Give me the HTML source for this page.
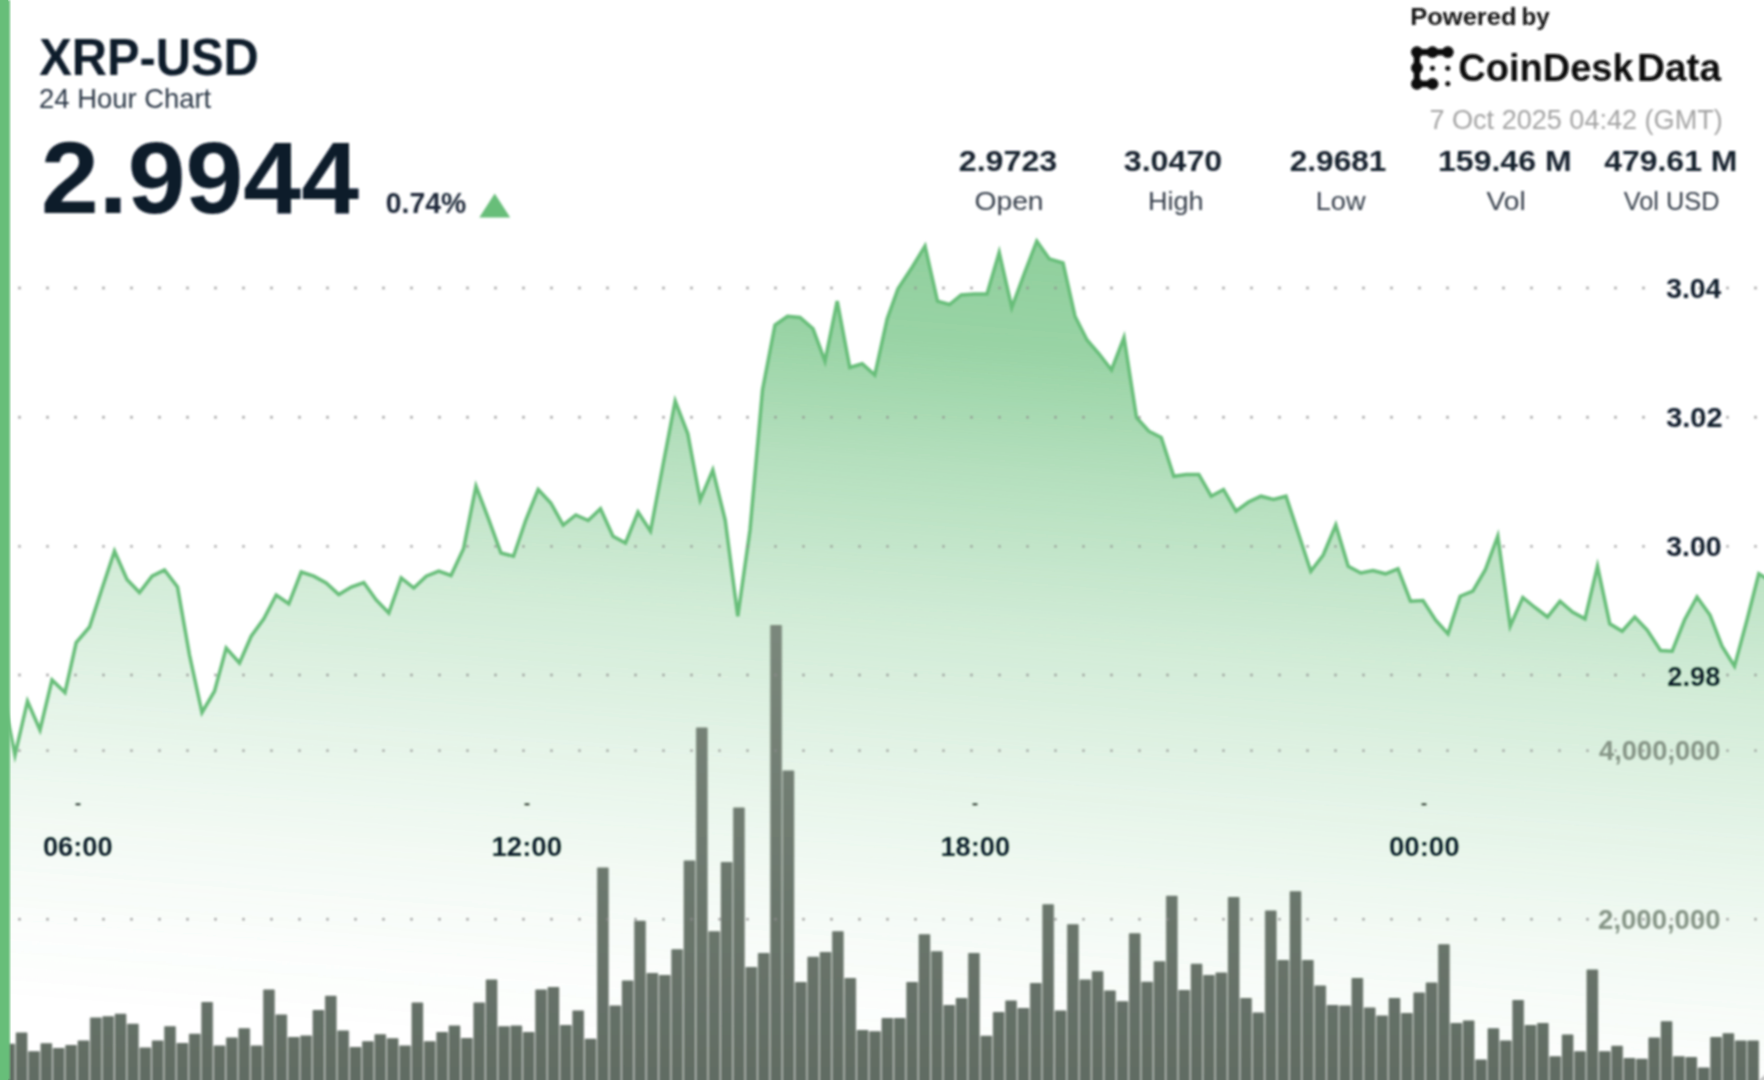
<!DOCTYPE html>
<html lang="en"><head><meta charset="utf-8"><title>XRP-USD 24 Hour Chart</title>
<style>
html,body{margin:0;padding:0;background:#fff;}
body{width:1764px;height:1080px;overflow:hidden;position:relative;font-family:"Liberation Sans", Arial, sans-serif;}
svg{position:absolute;left:0;top:0;display:block;}
text{font-family:"Liberation Sans", Arial, sans-serif;}
</style></head><body>
<svg width="1764" height="1080" viewBox="0 0 1764 1080">
<defs>
<linearGradient id="ga" gradientUnits="userSpaceOnUse" x1="1036" y1="241" x2="969.1" y2="1077.5">
<stop offset="0" stop-color="#67be79" stop-opacity="0.73"/>
<stop offset="0.129" stop-color="#67be79" stop-opacity="0.67"/>
<stop offset="0.275" stop-color="#67be79" stop-opacity="0.49"/>
<stop offset="0.466" stop-color="#67be79" stop-opacity="0.30"/>
<stop offset="0.644" stop-color="#67be79" stop-opacity="0.17"/>
<stop offset="0.786" stop-color="#67be79" stop-opacity="0.08"/>
<stop offset="0.917" stop-color="#67be79" stop-opacity="0.02"/>
<stop offset="1" stop-color="#67be79" stop-opacity="0"/>
</linearGradient>
<linearGradient id="gb" gradientUnits="userSpaceOnUse" x1="0" y1="620" x2="0" y2="1080">
<stop offset="0" stop-color="#7b887c"/>
<stop offset="1" stop-color="#616c63"/>
</linearGradient>
<filter id="soft" x="-2%" y="-2%" width="104%" height="104%"><feGaussianBlur stdDeviation="0.9"/></filter>
</defs>
<g filter="url(#soft)">
<path d="M2.5 692.5 L15.0 755.0 L27.5 701.2 L40.0 730.0 L52.0 680.0 L65.0 692.5 L76.2 642.5 L89.5 627.0 L102.0 588.8 L114.5 551.2 L127.0 579.5 L139.5 592.5 L152.0 576.2 L164.5 570.0 L177.5 587.0 L189.5 655.0 L202.0 712.5 L214.5 691.2 L226.2 648.0 L239.5 663.0 L251.2 636.2 L263.8 618.8 L276.2 595.0 L288.8 603.8 L301.2 572.0 L313.8 576.2 L326.2 583.0 L338.8 594.5 L351.2 587.0 L363.8 582.5 L376.2 600.0 L388.8 613.0 L401.2 578.0 L413.8 588.0 L426.2 576.2 L438.8 571.2 L451.0 575.5 L463.5 548.8 L476.0 486.2 L488.5 518.8 L501.0 553.0 L513.5 556.2 L525.8 520.0 L538.2 489.5 L550.8 503.0 L563.2 525.0 L575.8 515.0 L588.2 520.5 L600.5 508.8 L613.0 536.2 L625.5 543.0 L638.0 512.0 L650.5 531.2 L663.0 465.0 L675.2 401.2 L687.8 433.8 L700.2 500.0 L712.8 470.0 L725.2 520.0 L737.8 616.2 L750.0 530.0 L762.5 390.0 L775.0 325.0 L787.5 316.2 L800.0 317.5 L813.0 328.8 L825.0 361.2 L837.2 301.2 L849.8 367.5 L862.2 363.8 L874.8 375.0 L887.2 318.8 L898.0 288.8 L912.0 267.5 L925.0 246.2 L937.5 301.2 L949.5 304.5 L961.2 295.0 L974.5 294.0 L987.0 294.0 L999.2 252.5 L1011.8 307.5 L1024.2 273.8 L1036.8 241.2 L1049.2 258.8 L1063.0 263.0 L1075.0 316.2 L1087.0 340.0 L1099.0 353.8 L1111.5 370.0 L1124.0 337.5 L1136.5 417.5 L1148.8 431.2 L1161.2 437.5 L1173.8 476.2 L1186.2 474.5 L1198.8 474.5 L1211.2 496.2 L1223.5 489.5 L1236.0 511.2 L1248.5 502.0 L1261.0 496.2 L1273.5 499.5 L1286.0 496.2 L1298.5 533.8 L1310.8 571.2 L1323.2 555.0 L1335.8 525.0 L1348.2 566.2 L1360.8 573.0 L1373.0 570.5 L1385.5 573.8 L1398.0 568.8 L1410.5 601.2 L1423.0 600.5 L1435.5 620.0 L1448.0 633.8 L1460.2 596.2 L1472.8 591.2 L1485.2 570.0 L1497.8 536.2 L1510.2 626.2 L1522.8 597.5 L1535.0 607.5 L1547.5 617.0 L1560.0 601.2 L1572.5 612.0 L1585.0 618.8 L1597.5 566.2 L1609.8 623.8 L1622.2 631.2 L1634.8 617.0 L1647.2 630.0 L1660.5 650.5 L1672.2 651.2 L1684.5 620.0 L1697.0 597.0 L1710.0 615.0 L1722.0 646.2 L1734.5 666.2 L1747.0 620.0 L1758.8 573.8 L1764.0 577.0 L1790 591.0 L1790 1110 L-20 1110 L-20 692.5 Z" fill="url(#ga)"/>
<path d="M2.5 692.5 L15.0 755.0 L27.5 701.2 L40.0 730.0 L52.0 680.0 L65.0 692.5 L76.2 642.5 L89.5 627.0 L102.0 588.8 L114.5 551.2 L127.0 579.5 L139.5 592.5 L152.0 576.2 L164.5 570.0 L177.5 587.0 L189.5 655.0 L202.0 712.5 L214.5 691.2 L226.2 648.0 L239.5 663.0 L251.2 636.2 L263.8 618.8 L276.2 595.0 L288.8 603.8 L301.2 572.0 L313.8 576.2 L326.2 583.0 L338.8 594.5 L351.2 587.0 L363.8 582.5 L376.2 600.0 L388.8 613.0 L401.2 578.0 L413.8 588.0 L426.2 576.2 L438.8 571.2 L451.0 575.5 L463.5 548.8 L476.0 486.2 L488.5 518.8 L501.0 553.0 L513.5 556.2 L525.8 520.0 L538.2 489.5 L550.8 503.0 L563.2 525.0 L575.8 515.0 L588.2 520.5 L600.5 508.8 L613.0 536.2 L625.5 543.0 L638.0 512.0 L650.5 531.2 L663.0 465.0 L675.2 401.2 L687.8 433.8 L700.2 500.0 L712.8 470.0 L725.2 520.0 L737.8 616.2 L750.0 530.0 L762.5 390.0 L775.0 325.0 L787.5 316.2 L800.0 317.5 L813.0 328.8 L825.0 361.2 L837.2 301.2 L849.8 367.5 L862.2 363.8 L874.8 375.0 L887.2 318.8 L898.0 288.8 L912.0 267.5 L925.0 246.2 L937.5 301.2 L949.5 304.5 L961.2 295.0 L974.5 294.0 L987.0 294.0 L999.2 252.5 L1011.8 307.5 L1024.2 273.8 L1036.8 241.2 L1049.2 258.8 L1063.0 263.0 L1075.0 316.2 L1087.0 340.0 L1099.0 353.8 L1111.5 370.0 L1124.0 337.5 L1136.5 417.5 L1148.8 431.2 L1161.2 437.5 L1173.8 476.2 L1186.2 474.5 L1198.8 474.5 L1211.2 496.2 L1223.5 489.5 L1236.0 511.2 L1248.5 502.0 L1261.0 496.2 L1273.5 499.5 L1286.0 496.2 L1298.5 533.8 L1310.8 571.2 L1323.2 555.0 L1335.8 525.0 L1348.2 566.2 L1360.8 573.0 L1373.0 570.5 L1385.5 573.8 L1398.0 568.8 L1410.5 601.2 L1423.0 600.5 L1435.5 620.0 L1448.0 633.8 L1460.2 596.2 L1472.8 591.2 L1485.2 570.0 L1497.8 536.2 L1510.2 626.2 L1522.8 597.5 L1535.0 607.5 L1547.5 617.0 L1560.0 601.2 L1572.5 612.0 L1585.0 618.8 L1597.5 566.2 L1609.8 623.8 L1622.2 631.2 L1634.8 617.0 L1647.2 630.0 L1660.5 650.5 L1672.2 651.2 L1684.5 620.0 L1697.0 597.0 L1710.0 615.0 L1722.0 646.2 L1734.5 666.2 L1747.0 620.0 L1758.8 573.8 L1764.0 577.0 L1790 591.0" fill="none" stroke="#67be79" stroke-width="3.5" stroke-linejoin="miter" stroke-miterlimit="5" stroke-linecap="butt"/>
<path d="M3.05 1110V1044.2h12.368V1110z M15.42 1110V1033.0h12.368V1110z M27.78 1110V1051.8h12.368V1110z M40.15 1110V1043.8h12.368V1110z M52.52 1110V1048.5h12.368V1110z M64.89 1110V1045.5h12.368V1110z M77.26 1110V1041.0h12.368V1110z M89.62 1110V1018.0h12.368V1110z M101.99 1110V1016.8h12.368V1110z M114.36 1110V1014.2h12.368V1110z M126.73 1110V1024.2h12.368V1110z M139.10 1110V1048.0h12.368V1110z M151.46 1110V1041.0h12.368V1110z M163.83 1110V1026.8h12.368V1110z M176.20 1110V1043.5h12.368V1110z M188.57 1110V1034.2h12.368V1110z M200.94 1110V1002.5h12.368V1110z M213.30 1110V1046.0h12.368V1110z M225.67 1110V1038.0h12.368V1110z M238.04 1110V1028.8h12.368V1110z M250.41 1110V1046.0h12.368V1110z M262.78 1110V990.0h12.368V1110z M275.14 1110V1015.0h12.368V1110z M287.51 1110V1037.5h12.368V1110z M299.88 1110V1036.0h12.368V1110z M312.25 1110V1010.5h12.368V1110z M324.62 1110V996.2h12.368V1110z M336.98 1110V1031.0h12.368V1110z M349.35 1110V1047.5h12.368V1110z M361.72 1110V1041.8h12.368V1110z M374.09 1110V1034.8h12.368V1110z M386.46 1110V1038.8h12.368V1110z M398.82 1110V1046.0h12.368V1110z M411.19 1110V1003.0h12.368V1110z M423.56 1110V1041.8h12.368V1110z M435.93 1110V1032.5h12.368V1110z M448.30 1110V1026.0h12.368V1110z M460.66 1110V1038.5h12.368V1110z M473.03 1110V1003.0h12.368V1110z M485.40 1110V980.0h12.368V1110z M497.77 1110V1026.8h12.368V1110z M510.14 1110V1026.0h12.368V1110z M522.50 1110V1032.5h12.368V1110z M534.87 1110V990.0h12.368V1110z M547.24 1110V987.5h12.368V1110z M559.61 1110V1025.5h12.368V1110z M571.98 1110V1011.0h12.368V1110z M584.34 1110V1039.2h12.368V1110z M596.71 1110V868.0h12.368V1110z M609.08 1110V1006.0h12.368V1110z M621.45 1110V981.0h12.368V1110z M633.82 1110V921.2h12.368V1110z M646.18 1110V973.5h12.368V1110z M658.55 1110V975.5h12.368V1110z M670.92 1110V949.8h12.368V1110z M683.29 1110V861.0h12.368V1110z M695.66 1110V728.0h12.368V1110z M708.02 1110V931.8h12.368V1110z M720.39 1110V862.5h12.368V1110z M732.76 1110V808.0h12.368V1110z M745.13 1110V967.5h12.368V1110z M757.50 1110V953.5h12.368V1110z M769.86 1110V625.5h12.368V1110z M782.23 1110V771.0h12.368V1110z M794.60 1110V982.5h12.368V1110z M806.97 1110V957.2h12.368V1110z M819.34 1110V952.5h12.368V1110z M831.70 1110V931.8h12.368V1110z M844.07 1110V978.5h12.368V1110z M856.44 1110V1030.5h12.368V1110z M868.81 1110V1031.8h12.368V1110z M881.18 1110V1018.5h12.368V1110z M893.54 1110V1018.5h12.368V1110z M905.91 1110V982.5h12.368V1110z M918.28 1110V934.8h12.368V1110z M930.65 1110V951.8h12.368V1110z M943.02 1110V1005.5h12.368V1110z M955.38 1110V998.5h12.368V1110z M967.75 1110V953.5h12.368V1110z M980.12 1110V1036.2h12.368V1110z M992.49 1110V1012.5h12.368V1110z M1004.86 1110V1001.0h12.368V1110z M1017.22 1110V1008.5h12.368V1110z M1029.59 1110V983.5h12.368V1110z M1041.96 1110V904.8h12.368V1110z M1054.33 1110V1011.0h12.368V1110z M1066.70 1110V924.8h12.368V1110z M1079.06 1110V980.0h12.368V1110z M1091.43 1110V971.8h12.368V1110z M1103.80 1110V991.0h12.368V1110z M1116.17 1110V1001.8h12.368V1110z M1128.54 1110V933.8h12.368V1110z M1140.90 1110V982.2h12.368V1110z M1153.27 1110V961.8h12.368V1110z M1165.64 1110V896.2h12.368V1110z M1178.01 1110V990.5h12.368V1110z M1190.38 1110V964.2h12.368V1110z M1202.74 1110V975.5h12.368V1110z M1215.11 1110V973.0h12.368V1110z M1227.48 1110V897.5h12.368V1110z M1239.85 1110V998.5h12.368V1110z M1252.22 1110V1013.0h12.368V1110z M1264.58 1110V911.0h12.368V1110z M1276.95 1110V960.5h12.368V1110z M1289.32 1110V891.8h12.368V1110z M1301.69 1110V960.5h12.368V1110z M1314.06 1110V986.0h12.368V1110z M1326.42 1110V1005.5h12.368V1110z M1338.79 1110V1006.0h12.368V1110z M1351.16 1110V978.5h12.368V1110z M1363.53 1110V1008.0h12.368V1110z M1375.90 1110V1016.0h12.368V1110z M1388.26 1110V998.5h12.368V1110z M1400.63 1110V1013.5h12.368V1110z M1413.00 1110V993.0h12.368V1110z M1425.37 1110V983.0h12.368V1110z M1437.74 1110V944.8h12.368V1110z M1450.10 1110V1023.5h12.368V1110z M1462.47 1110V1021.0h12.368V1110z M1474.84 1110V1060.0h12.368V1110z M1487.21 1110V1028.8h12.368V1110z M1499.58 1110V1041.0h12.368V1110z M1511.94 1110V1000.5h12.368V1110z M1524.31 1110V1025.5h12.368V1110z M1536.68 1110V1023.5h12.368V1110z M1549.05 1110V1056.8h12.368V1110z M1561.42 1110V1035.0h12.368V1110z M1573.78 1110V1051.8h12.368V1110z M1586.15 1110V970.0h12.368V1110z M1598.52 1110V1051.8h12.368V1110z M1610.89 1110V1046.2h12.368V1110z M1623.26 1110V1058.5h12.368V1110z M1635.62 1110V1059.2h12.368V1110z M1647.99 1110V1038.0h12.368V1110z M1660.36 1110V1021.8h12.368V1110z M1672.73 1110V1056.8h12.368V1110z M1685.10 1110V1057.5h12.368V1110z M1697.46 1110V1068.0h12.368V1110z M1709.83 1110V1037.5h12.368V1110z M1722.20 1110V1033.8h12.368V1110z M1734.57 1110V1041.0h12.368V1110z M1746.94 1110V1041.0h12.368V1110z" fill="#6b776d" fill-opacity="0.36"/>
<path d="M3.68 1110V1043.8h11.1V1110z M16.05 1110V1032.5h11.1V1110z M28.42 1110V1051.2h11.1V1110z M40.79 1110V1043.2h11.1V1110z M53.15 1110V1048.0h11.1V1110z M65.52 1110V1045.0h11.1V1110z M77.89 1110V1040.5h11.1V1110z M90.26 1110V1017.5h11.1V1110z M102.63 1110V1016.2h11.1V1110z M114.99 1110V1013.8h11.1V1110z M127.36 1110V1023.8h11.1V1110z M139.73 1110V1047.5h11.1V1110z M152.10 1110V1040.5h11.1V1110z M164.47 1110V1026.2h11.1V1110z M176.83 1110V1043.0h11.1V1110z M189.20 1110V1033.8h11.1V1110z M201.57 1110V1002.0h11.1V1110z M213.94 1110V1045.5h11.1V1110z M226.31 1110V1037.5h11.1V1110z M238.67 1110V1028.2h11.1V1110z M251.04 1110V1045.5h11.1V1110z M263.41 1110V989.5h11.1V1110z M275.78 1110V1014.5h11.1V1110z M288.15 1110V1037.0h11.1V1110z M300.51 1110V1035.5h11.1V1110z M312.88 1110V1010.0h11.1V1110z M325.25 1110V995.8h11.1V1110z M337.62 1110V1030.5h11.1V1110z M349.99 1110V1047.0h11.1V1110z M362.35 1110V1041.2h11.1V1110z M374.72 1110V1034.2h11.1V1110z M387.09 1110V1038.2h11.1V1110z M399.46 1110V1045.5h11.1V1110z M411.83 1110V1002.5h11.1V1110z M424.19 1110V1041.2h11.1V1110z M436.56 1110V1032.0h11.1V1110z M448.93 1110V1025.5h11.1V1110z M461.30 1110V1038.0h11.1V1110z M473.67 1110V1002.5h11.1V1110z M486.03 1110V979.5h11.1V1110z M498.40 1110V1026.2h11.1V1110z M510.77 1110V1025.5h11.1V1110z M523.14 1110V1032.0h11.1V1110z M535.51 1110V989.5h11.1V1110z M547.87 1110V987.0h11.1V1110z M560.24 1110V1025.0h11.1V1110z M572.61 1110V1010.5h11.1V1110z M584.98 1110V1038.8h11.1V1110z M597.35 1110V867.5h11.1V1110z M609.71 1110V1005.5h11.1V1110z M622.08 1110V980.5h11.1V1110z M634.45 1110V920.8h11.1V1110z M646.82 1110V973.0h11.1V1110z M659.19 1110V975.0h11.1V1110z M671.55 1110V949.2h11.1V1110z M683.92 1110V860.5h11.1V1110z M696.29 1110V727.5h11.1V1110z M708.66 1110V931.2h11.1V1110z M721.03 1110V862.0h11.1V1110z M733.39 1110V807.5h11.1V1110z M745.76 1110V967.0h11.1V1110z M758.13 1110V953.0h11.1V1110z M770.50 1110V625.0h11.1V1110z M782.87 1110V770.5h11.1V1110z M795.23 1110V982.0h11.1V1110z M807.60 1110V956.8h11.1V1110z M819.97 1110V952.0h11.1V1110z M832.34 1110V931.2h11.1V1110z M844.71 1110V978.0h11.1V1110z M857.07 1110V1030.0h11.1V1110z M869.44 1110V1031.2h11.1V1110z M881.81 1110V1018.0h11.1V1110z M894.18 1110V1018.0h11.1V1110z M906.55 1110V982.0h11.1V1110z M918.91 1110V934.2h11.1V1110z M931.28 1110V951.2h11.1V1110z M943.65 1110V1005.0h11.1V1110z M956.02 1110V998.0h11.1V1110z M968.39 1110V953.0h11.1V1110z M980.75 1110V1035.8h11.1V1110z M993.12 1110V1012.0h11.1V1110z M1005.49 1110V1000.5h11.1V1110z M1017.86 1110V1008.0h11.1V1110z M1030.23 1110V983.0h11.1V1110z M1042.59 1110V904.2h11.1V1110z M1054.96 1110V1010.5h11.1V1110z M1067.33 1110V924.2h11.1V1110z M1079.70 1110V979.5h11.1V1110z M1092.07 1110V971.2h11.1V1110z M1104.43 1110V990.5h11.1V1110z M1116.80 1110V1001.2h11.1V1110z M1129.17 1110V933.2h11.1V1110z M1141.54 1110V981.8h11.1V1110z M1153.91 1110V961.2h11.1V1110z M1166.27 1110V895.8h11.1V1110z M1178.64 1110V990.0h11.1V1110z M1191.01 1110V963.8h11.1V1110z M1203.38 1110V975.0h11.1V1110z M1215.75 1110V972.5h11.1V1110z M1228.11 1110V897.0h11.1V1110z M1240.48 1110V998.0h11.1V1110z M1252.85 1110V1012.5h11.1V1110z M1265.22 1110V910.5h11.1V1110z M1277.59 1110V960.0h11.1V1110z M1289.95 1110V891.2h11.1V1110z M1302.32 1110V960.0h11.1V1110z M1314.69 1110V985.5h11.1V1110z M1327.06 1110V1005.0h11.1V1110z M1339.43 1110V1005.5h11.1V1110z M1351.79 1110V978.0h11.1V1110z M1364.16 1110V1007.5h11.1V1110z M1376.53 1110V1015.5h11.1V1110z M1388.90 1110V998.0h11.1V1110z M1401.27 1110V1013.0h11.1V1110z M1413.63 1110V992.5h11.1V1110z M1426.00 1110V982.5h11.1V1110z M1438.37 1110V944.2h11.1V1110z M1450.74 1110V1023.0h11.1V1110z M1463.11 1110V1020.5h11.1V1110z M1475.47 1110V1059.5h11.1V1110z M1487.84 1110V1028.2h11.1V1110z M1500.21 1110V1040.5h11.1V1110z M1512.58 1110V1000.0h11.1V1110z M1524.95 1110V1025.0h11.1V1110z M1537.31 1110V1023.0h11.1V1110z M1549.68 1110V1056.2h11.1V1110z M1562.05 1110V1034.5h11.1V1110z M1574.42 1110V1051.2h11.1V1110z M1586.79 1110V969.5h11.1V1110z M1599.15 1110V1051.2h11.1V1110z M1611.52 1110V1045.8h11.1V1110z M1623.89 1110V1058.0h11.1V1110z M1636.26 1110V1058.8h11.1V1110z M1648.63 1110V1037.5h11.1V1110z M1660.99 1110V1021.2h11.1V1110z M1673.36 1110V1056.2h11.1V1110z M1685.73 1110V1057.0h11.1V1110z M1698.10 1110V1067.5h11.1V1110z M1710.47 1110V1037.0h11.1V1110z M1722.83 1110V1033.2h11.1V1110z M1735.20 1110V1040.5h11.1V1110z M1747.57 1110V1040.5h11.1V1110z" fill="url(#gb)"/>
<path d="M18.5 288H1794" stroke="#8c8c8c" stroke-width="2.4" stroke-dasharray="2 26" fill="none"/>
<path d="M18.5 417.3H1794" stroke="#8c8c8c" stroke-width="2.4" stroke-dasharray="2 26" fill="none"/>
<path d="M18.5 546.4H1794" stroke="#8c8c8c" stroke-width="2.4" stroke-dasharray="2 26" fill="none"/>
<path d="M18.5 675H1794" stroke="#8c8c8c" stroke-width="2.4" stroke-dasharray="2 26" fill="none"/>
<path d="M18.5 750.6H1794" stroke="#8c8c8c" stroke-width="2.4" stroke-dasharray="2 26" fill="none"/>
<path d="M18.5 919.3H1794" stroke="#8c8c8c" stroke-width="2.4" stroke-dasharray="2 26" fill="none"/>
<rect x="75.5" y="803.3" width="5" height="2" fill="#222"/>
<rect x="524.5" y="803.3" width="5" height="2" fill="#222"/>
<rect x="972.5" y="803.3" width="5" height="2" fill="#222"/>
<rect x="1421.5" y="803.3" width="5" height="2" fill="#222"/>
<text x="39.15" y="75.20" font-size="51.2" font-weight="bold" textLength="219.70" lengthAdjust="spacingAndGlyphs" fill="#0b1a2b">XRP-USD</text>
<text x="39.07" y="108.00" font-size="28.3" font-weight="normal" textLength="172.06" lengthAdjust="spacingAndGlyphs" fill="#2b3746">24 Hour Chart</text>
<text x="40.90" y="212.50" font-size="102.5" font-weight="bold" textLength="318.20" lengthAdjust="spacingAndGlyphs" fill="#0b1a2b">2.9944</text>
<text x="385.84" y="212.50" font-size="28.9" font-weight="bold" textLength="80.31" lengthAdjust="spacingAndGlyphs" fill="#1c2838">0.74%</text>
<text x="1410.21" y="24.90" font-size="24.7" font-weight="bold" textLength="106.38" lengthAdjust="spacingAndGlyphs" fill="#141414">Powered</text>
<text x="1521.41" y="24.90" font-size="24.7" font-weight="bold" textLength="28.18" lengthAdjust="spacingAndGlyphs" fill="#141414">by</text>
<text x="1458.34" y="81.20" font-size="38.2" font-weight="bold" textLength="175.32" lengthAdjust="spacingAndGlyphs" fill="#0a0a0a">CoinDesk</text>
<text x="1636.94" y="81.20" font-size="38.2" font-weight="bold" textLength="84.12" lengthAdjust="spacingAndGlyphs" fill="#0a0a0a">Data</text>
<text x="1429.47" y="128.60" font-size="28.2" font-weight="normal" textLength="293.26" lengthAdjust="spacingAndGlyphs" fill="#a3a3a3">7 Oct 2025 04:42 (GMT)</text>
<text x="958.79" y="171.25" font-size="30.3" font-weight="bold" textLength="98.42" lengthAdjust="spacingAndGlyphs" fill="#17222f">2.9723</text>
<text x="1123.79" y="171.25" font-size="30.3" font-weight="bold" textLength="98.42" lengthAdjust="spacingAndGlyphs" fill="#17222f">3.0470</text>
<text x="1289.79" y="171.25" font-size="30.3" font-weight="bold" textLength="96.62" lengthAdjust="spacingAndGlyphs" fill="#17222f">2.9681</text>
<text x="1437.99" y="171.25" font-size="30.3" font-weight="bold" textLength="133.62" lengthAdjust="spacingAndGlyphs" fill="#17222f">159.46 M</text>
<text x="1604.19" y="171.25" font-size="30.3" font-weight="bold" textLength="133.22" lengthAdjust="spacingAndGlyphs" fill="#17222f">479.61 M</text>
<text x="974.44" y="209.50" font-size="26.6" font-weight="normal" textLength="69.13" lengthAdjust="spacingAndGlyphs" fill="#343e4a">Open</text>
<text x="1147.94" y="209.50" font-size="26.6" font-weight="normal" textLength="55.63" lengthAdjust="spacingAndGlyphs" fill="#343e4a">High</text>
<text x="1315.74" y="209.50" font-size="26.6" font-weight="normal" textLength="49.73" lengthAdjust="spacingAndGlyphs" fill="#343e4a">Low</text>
<text x="1486.54" y="209.50" font-size="26.6" font-weight="normal" textLength="39.13" lengthAdjust="spacingAndGlyphs" fill="#343e4a">Vol</text>
<text x="1623.74" y="209.50" font-size="26.6" font-weight="normal" textLength="95.73" lengthAdjust="spacingAndGlyphs" fill="#343e4a">Vol USD</text>
<text x="1666.28" y="297.80" font-size="28.0" font-weight="bold" textLength="55.04" lengthAdjust="spacingAndGlyphs" fill="#0b1a2b">3.04</text>
<text x="1666.28" y="426.70" font-size="28.0" font-weight="bold" textLength="56.24" lengthAdjust="spacingAndGlyphs" fill="#0b1a2b">3.02</text>
<text x="1666.28" y="556.30" font-size="28.0" font-weight="bold" textLength="55.24" lengthAdjust="spacingAndGlyphs" fill="#0b1a2b">3.00</text>
<text x="1667.28" y="685.70" font-size="28.0" font-weight="bold" textLength="53.24" lengthAdjust="spacingAndGlyphs" fill="#0b1a2b">2.98</text>
<text x="1599.11" y="759.70" font-size="27.3" font-weight="bold" textLength="121.38" lengthAdjust="spacingAndGlyphs" fill="#859486">4,000,000</text>
<text x="1598.11" y="928.90" font-size="27.3" font-weight="bold" textLength="122.38" lengthAdjust="spacingAndGlyphs" fill="#859486">2,000,000</text>
<text x="42.90" y="856.25" font-size="27.5" font-weight="bold" textLength="69.70" lengthAdjust="spacingAndGlyphs" fill="#0b1a2b">06:00</text>
<text x="491.40" y="856.25" font-size="27.5" font-weight="bold" textLength="70.70" lengthAdjust="spacingAndGlyphs" fill="#0b1a2b">12:00</text>
<text x="940.40" y="856.25" font-size="27.5" font-weight="bold" textLength="69.70" lengthAdjust="spacingAndGlyphs" fill="#0b1a2b">18:00</text>
<text x="1388.90" y="856.25" font-size="27.5" font-weight="bold" textLength="70.70" lengthAdjust="spacingAndGlyphs" fill="#0b1a2b">00:00</text>
<path d="M479.3 217.6L510.2 217.6L494.7 193.4Z" fill="#67be79"/>
<g fill="#0a0a0a" stroke="#0a0a0a">
<path d="M1447.8 52.1H1416.9V83.8H1432.5" fill="none" stroke-width="6.2" stroke-linejoin="round" stroke-linecap="round"/>
<circle cx="1416.9" cy="52.1" r="5.9" stroke="none"/><circle cx="1432.5" cy="52.1" r="5.9" stroke="none"/><circle cx="1447.8" cy="52.1" r="5.9" stroke="none"/>
<circle cx="1416.9" cy="67.8" r="5.9" stroke="none"/><circle cx="1416.9" cy="83.8" r="5.9" stroke="none"/><circle cx="1432.5" cy="83.8" r="5.9" stroke="none"/>
<circle cx="1432.5" cy="68.2" r="2.5" stroke="none"/><circle cx="1447.8" cy="68.2" r="2.5" stroke="none"/><circle cx="1447.8" cy="83.8" r="2.5" stroke="none"/>
</g>
<path d="M1765 1074.5L1765 1081L1758.5 1081Z" fill="#bdbdbd"/>
</g>
<rect x="0" y="0" width="10" height="1080" fill="#67be79" filter="url(#soft)"/>
<rect x="0" y="0" width="8" height="1080" fill="#67be79"/>
</svg>
</body></html>
